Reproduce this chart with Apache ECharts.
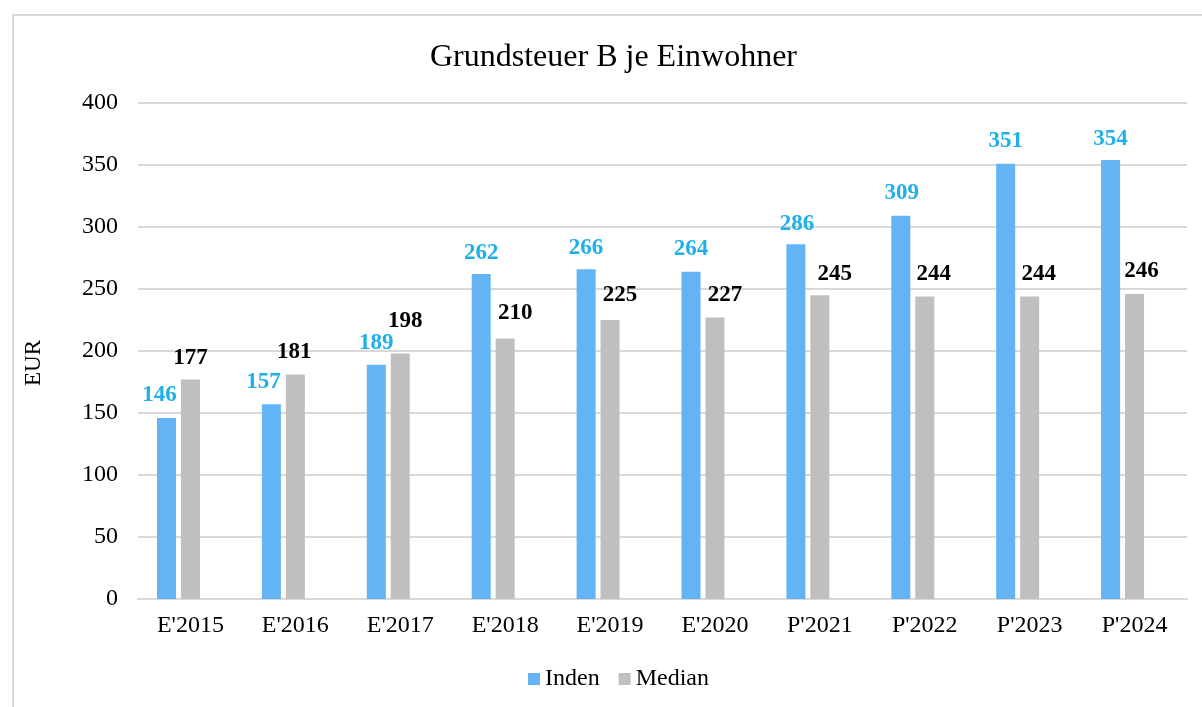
<!DOCTYPE html>
<html>
<head>
<meta charset="utf-8">
<script src="https://cdn.jsdelivr.net/npm/echarts@6/dist/echarts.min.js"></script>
<style>
  html, body { margin: 0; padding: 0; background: #fff; }
  #frame { position: absolute; left: 12px; top: 14px; width: 1200px; height: 700px; border: 2px solid #d9d9d9; box-sizing: border-box; }
  #chart { position: absolute; left: 0; top: 0; width: 1202px; height: 707px; }
</style>
</head>
<body>
<div id="frame"></div>
<div id="chart"></div>
<script>
  // Werte je Einwohner in EUR
  var years = ["E'2015", "E'2016", "E'2017", "E'2018", "E'2019", "E'2020", "P'2021", "P'2022", "P'2023", "P'2024"];
  var inden = [146, 157, 189, 262, 266, 264, 286, 309, 351, 354];
  var median = [177, 181, 198, 210, 225, 227, 245, 244, 244, 246];
  var leer = ['-', '-', '-', '-', '-', '-', '-', '-', '-', '-']; // leere dritte Reihe wie im Original

  // manuell verschobene Datenbeschriftungen (px)
  var indenLabelDx = [-7, -8, 0, 0, 0, 0, 1, 1, 0, 0];
  var indenLabelDy = [0, 0, 1, 1, 1, 0, 2, 0, 0, 2];
  var medianLabelDx = [0, -1, 5, 10, 10, 10, 15, 9, 9, 7];
  var medianLabelDy = [1, 0, -10, -3, -2, 0, 1, 0, 0, 0];

  var serif = '"Liberation Serif", "Times New Roman", serif';

  function withOffsets(values, dx, dy) {
    return values.map(function (v, i) {
      return { value: v, label: { offset: [dx[i], dy[i]] } };
    });
  }

  var chart = echarts.init(document.getElementById('chart'));
  chart.setOption({
    backgroundColor: 'transparent',
    animation: false,
    title: {
      text: 'Grundsteuer B je Einwohner',
      left: 425,
      top: 37,
      textStyle: { fontFamily: serif, fontWeight: 'normal', fontSize: 32, color: '#000' }
    },
    legend: {
      data: ['Inden', 'Median'],
      bottom: 11,
      left: 523,
      itemWidth: 12,
      itemHeight: 12,
      itemGap: 19,
      icon: 'rect',
      textStyle: { fontFamily: serif, fontSize: 24, color: '#000' }
    },
    grid: { left: 138, right: 15, top: 103, bottom: 108 },
    xAxis: {
      type: 'category',
      data: years,
      axisLine: { lineStyle: { color: '#d9d9d9', width: 2 } },
      axisTick: { show: false },
      axisLabel: { fontFamily: serif, fontSize: 24, color: '#000', margin: 15 }
    },
    yAxis: {
      type: 'value',
      name: 'EUR',
      nameLocation: 'middle',
      nameGap: 93,
      nameRotate: 90,
      nameTextStyle: { fontFamily: serif, fontSize: 23, color: '#000', padding: [0, 24, 0, 0] },
      min: 0,
      max: 400,
      interval: 50,
      axisLine: { show: false },
      axisTick: { show: false },
      splitLine: { lineStyle: { color: '#d9d9d9', width: 2 } },
      axisLabel: { fontFamily: serif, fontSize: 24, color: '#000', margin: 20 }
    },
    series: [
      {
        name: 'Inden',
        type: 'bar',
        data: withOffsets(inden, indenLabelDx, indenLabelDy),
        barWidth: 19,
        barGap: '26%',
        itemStyle: { color: '#63b3f5' },
        label: {
          show: true, position: 'top', distance: 11,
          fontFamily: serif, fontSize: 23, fontWeight: 'bold', color: '#1fb0ea'
        }
      },
      {
        name: 'Median',
        type: 'bar',
        data: withOffsets(median, medianLabelDx, medianLabelDy),
        barWidth: 19,
        barGap: '26%',
        itemStyle: { color: '#bfbfbf' },
        label: {
          show: true, position: 'top', distance: 11,
          fontFamily: serif, fontSize: 23, fontWeight: 'bold', color: '#000'
        }
      },
      {
        name: 'leer',
        type: 'bar',
        data: leer,
        barWidth: 19,
        barGap: '26%',
        itemStyle: { color: 'transparent' }
      }
    ]
  });
</script>
</body>
</html>
